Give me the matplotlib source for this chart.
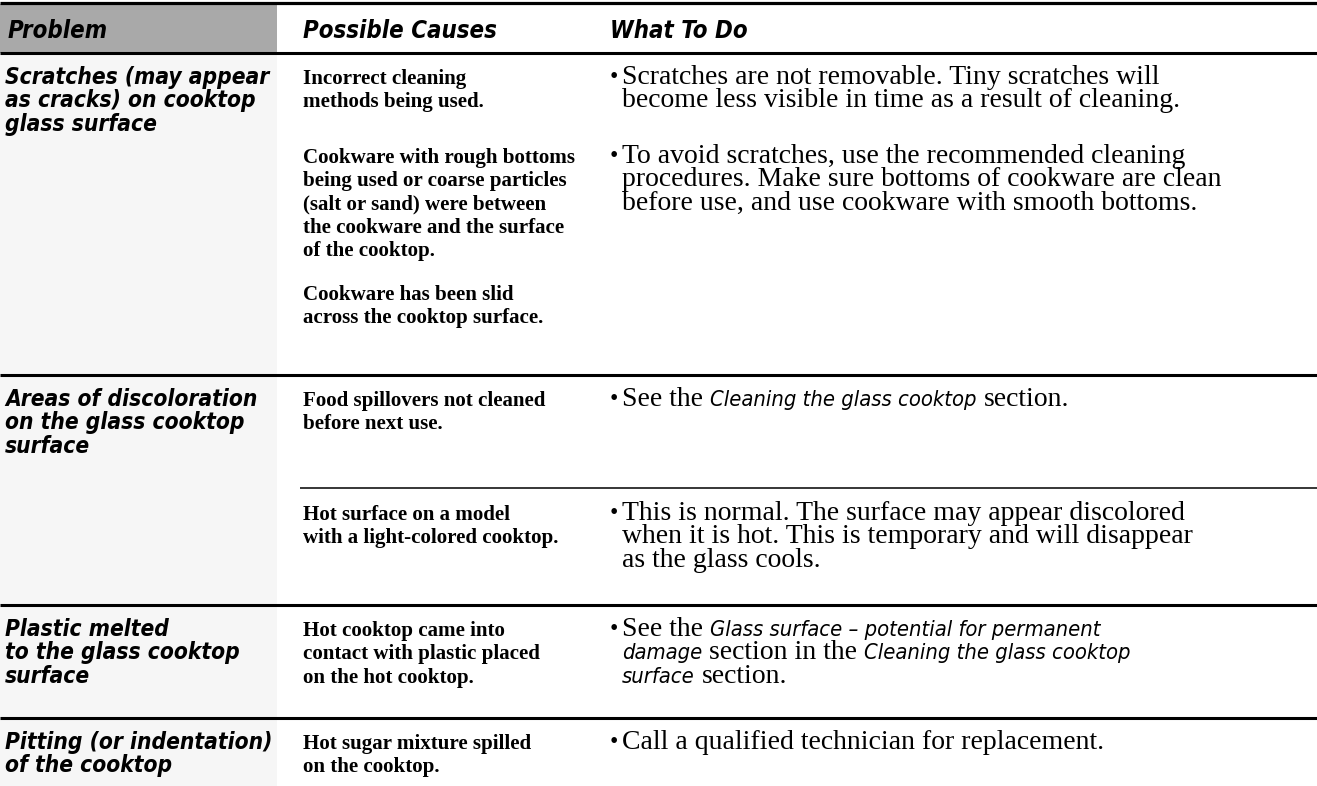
import matplotlib
matplotlib.use("Agg")
import matplotlib.pyplot as plt
from matplotlib import font_manager
from matplotlib.font_manager import FontProperties
from matplotlib.patches import Rectangle

# ---- table content ----
headers = ["Problem", "Possible Causes", "What To Do"]

problems = [
    ["Scratches (may appear", "as cracks) on cooktop", "glass surface"],
    ["Areas of discoloration", "on the glass cooktop", "surface"],
    ["Plastic melted", "to the glass cooktop", "surface"],
    ["Pitting (or indentation)", "of the cooktop"],
]

causes = [
    [["Incorrect cleaning", "methods being used."],
     ["Cookware with rough bottoms", "being used or coarse particles",
      "(salt or sand) were between", "the cookware and the surface",
      "of the cooktop."],
     ["Cookware has been slid", "across the cooktop surface."]],
    [["Food spillovers not cleaned", "before next use."],
     ["Hot surface on a model", "with a light-colored cooktop."]],
    [["Hot cooktop came into", "contact with plastic placed",
      "on the hot cooktop."]],
    [["Hot sugar mixture spilled", "on the cooktop."]],
]

# (text, italic) segments per line
solutions = [
    [[[("Scratches are not removable. Tiny scratches will", 0)],
      [("become less visible in time as a result of cleaning.", 0)]],
     [[("To avoid scratches, use the recommended cleaning", 0)],
      [("procedures. Make sure bottoms of cookware are clean", 0)],
      [("before use, and use cookware with smooth bottoms.", 0)]]],
    [[[("See the", 0), ("Cleaning the glass cooktop", 1), ("section.", 0)]],
     [[("This is normal. The surface may appear discolored", 0)],
      [("when it is hot. This is temporary and will disappear", 0)],
      [("as the glass cools.", 0)]]],
    [[[("See the", 0), ("Glass surface \u2013 potential for permanent", 1)],
      [("damage", 1), ("section in the", 0), ("Cleaning the glass cooktop", 1)],
      [("surface", 1), ("section.", 0)]]],
    [[[("Call a qualified technician for replacement.", 0)]]],
]

# ---- layout (pixels) ----
W, H = 1317, 786
row_lines = [53, 375, 605, 718]
thin_line = 488
LS = 23.3
prob_y = [84, 406, 636, 749]
cause_y = [[84, 163, 300], [406, 520], [636], [749]]
sol_y = [[84, 163], [406, 520], [636], [749]]
X_PROB, X_CAUSE, X_BUL, X_SOL = 5, 303, 610, 622
COL1_W = 277

PREF = ["Liberation Sans Narrow", "DejaVu Sans", "Noto Sans", "Open Sans", "Roboto"]
COND = ("condensed", "semi-condensed", "extra-condensed", "ultra-condensed")


def wnum(w):
    if isinstance(w, str):
        return font_manager.weight_dict.get(w, 400)
    return w


def pick_condensed(bold, italic):
    best, rank = None, 99
    for f in font_manager.fontManager.ttflist:
        cond = f.stretch in COND or (isinstance(f.stretch, (int, float)) and f.stretch < 500)
        if f.name == "Liberation Sans Narrow":
            cond = True
        if not cond or f.name not in PREF:
            continue
        w = wnum(f.weight)
        if bold != (w >= 600) or (not bold and w < 350):
            continue
        if italic != (f.style in ("italic", "oblique")):
            continue
        r = PREF.index(f.name) * 2 + (0 if f.stretch == "condensed" else 1)
        if r < rank:
            best, rank = f, r
    if best is not None:
        return best.fname
    return None


def make_prop(fname, size, **fallback):
    if fname:
        p = FontProperties(fname=fname)
    else:
        p = FontProperties(**fallback)
    p.set_size(size)
    return p


fig = plt.figure(figsize=(W / 100, H / 100), dpi=100)
ax = fig.add_axes([0, 0, 1, 1])
ax.set_xlim(0, W)
ax.set_ylim(H, 0)
ax.axis("off")
fig.canvas.draw()
renderer = fig.canvas.get_renderer()


def text_w(s, prop):
    t = ax.text(0, 0, s, fontproperties=prop)
    w = t.get_window_extent(renderer).width
    t.remove()
    return w


def fitted(s, target, fname, scale=1.0, **fallback):
    p = make_prop(fname, 20, **fallback)
    return make_prop(fname, scale * 20 * target / text_w(s, p), **fallback)


f_bi = pick_condensed(True, True)
f_i = pick_condensed(False, True)

head_p = fitted("Possible Causes", 155, f_bi, 1.25, family="DejaVu Sans", weight="bold", style="italic")
prob_p = fitted("Scratches (may appear", 257, f_bi, 1.03, family="DejaVu Sans", weight="bold", style="italic")
cause_p = fitted("Cookware with rough bottoms", 273, None, 1.0, family="Liberation Serif", weight="bold")
sol_p = fitted("become less visible in time as a result of cleaning.", 593, None, 0.94, family="Liberation Serif")
ital_p = fitted("Cleaning the glass cooktop", 238, f_i, 1.12, family="DejaVu Sans", style="italic")
bul_p = make_prop(None, sol_p.get_size() * 0.85, family="Liberation Serif")
sp = text_w("a a", sol_p) - text_w("aa", sol_p)

# backgrounds
ax.add_patch(Rectangle((0, row_lines[0]), COL1_W, H - row_lines[0],
                       facecolor="#f6f6f6", edgecolor="none", zorder=0))
ax.add_patch(Rectangle((0, 4), COL1_W, row_lines[0] - 4,
                       facecolor="#a9a9a9", edgecolor="none", zorder=0))

# rules
ax.plot([0, W], [3, 3], color="black", lw=2.3, solid_capstyle="butt")
for y in row_lines:
    ax.plot([0, W], [y, y], color="black", lw=2.2, solid_capstyle="butt")
ax.plot([300, W], [thin_line, thin_line], color="black", lw=1.1, solid_capstyle="butt")

# header
for x, h in zip([8, X_CAUSE, X_BUL], headers):
    ax.text(x, 38, h, va="baseline", ha="left", fontproperties=head_p)

# body
for r in range(len(problems)):
    for i, line in enumerate(problems[r]):
        ax.text(X_PROB, prob_y[r] + i * LS, line, va="baseline", fontproperties=prob_p)
    for para, y0 in zip(causes[r], cause_y[r]):
        for i, line in enumerate(para):
            ax.text(X_CAUSE, y0 + i * LS, line, va="baseline", fontproperties=cause_p)
    for para, y0 in zip(solutions[r], sol_y[r]):
        ax.text(X_BUL, y0 - 1, "\u2022", va="baseline", fontproperties=bul_p)
        for i, segs in enumerate(para):
            x = X_SOL
            y = y0 + i * LS
            for s, it in segs:
                p = ital_p if it else sol_p
                ax.text(x, y, s, va="baseline", fontproperties=p)
                x += text_w(s, p) + sp

fig.savefig("out.png", dpi=100, facecolor="white")
